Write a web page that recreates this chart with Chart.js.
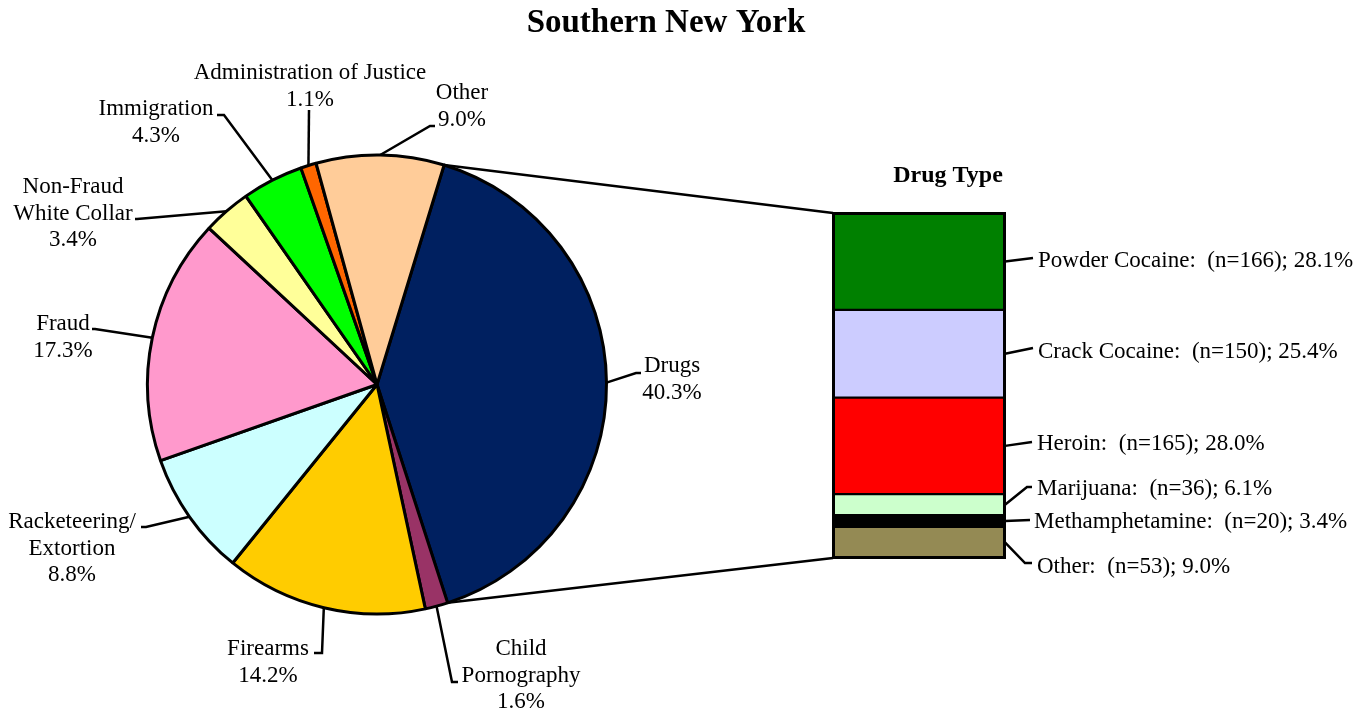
<!DOCTYPE html>
<html><head><meta charset="utf-8">
<script src="https://cdn.jsdelivr.net/npm/chart.js@4.4.1/dist/chart.umd.min.js"></script>
<style>
html,body{margin:0;padding:0;background:#fff;}
#wrap{position:relative;width:1362px;height:712px;overflow:hidden;}
#wrap canvas{position:absolute;left:0;top:0;}
</style></head><body>
<div id="wrap"><canvas id="pie" width="1362" height="712"></canvas><canvas id="bar" width="1362" height="712"></canvas></div>
<script>
// ---------- data ----------
const chartTitle = "Southern New York";
const pieCategories = [["Drugs"],["Child","Pornography"],["Firearms"],["Racketeering/","Extortion"],["Fraud"],["Non-Fraud","White Collar"],["Immigration"],["Administration of Justice"],["Other"]];
const piePercents = [40.3, 1.6, 14.2, 8.8, 17.3, 3.4, 4.3, 1.1, 9.0];
const pieColors = ["#002060","#993366","#FFCC00","#CCFFFF","#FF99CC","#FFFF99","#00FF00","#FF6600","#FFCC99"];

const drugTitle = "Drug Type";
const drugCategories = ["Powder Cocaine","Crack Cocaine","Heroin","Marijuana","Methamphetamine","Other"];
const drugCounts = [166, 150, 165, 36, 20, 53];
const drugPercents = [28.1, 25.4, 28.0, 6.1, 3.4, 9.0];
const drugColors = ["#008000","#CCCCFF","#FF0000","#CCFFCC","#000000","#948A54"];

// ---------- layout (positions only) ----------
const SERIF = '"Liberation Serif","Times New Roman",serif';
const pieLabelLayout = [
  {pts:[[636,373],[641,373]], cx:672, by:372},
  {pts:[[452,682],[458,682]], cx:521, by:655},
  {pts:[[322,653],[314,653]], cx:268, by:655},
  {pts:[[146,527],[141,527]], cx:72,  by:528},
  {pts:[[95,329],[92,329]],   cx:63,  by:330},
  {pts:[[137,219],[135,219]], cx:73,  by:193},
  {pts:[[224,115],[217,115]], cx:156, by:115},
  {pts:[[309,110]],           cx:310, by:79},
  {pts:[[430,126],[435,126]], cx:462, by:99}
];
const drugLabelLayout = [
  {pts:[[1033,258]], tx:1038, by:267},
  {pts:[[1033,348]], tx:1038, by:358},
  {pts:[[1032,442]], tx:1037, by:450},
  {pts:[[1027,487],[1032,487]], tx:1037, by:495},
  {pts:[[1030,520]], tx:1034, by:528},
  {pts:[[1025,563],[1032,563]], tx:1037, by:573}
];
const LINE_H = 26.5;

function polyline(ctx, pts){
  ctx.beginPath();
  ctx.moveTo(pts[0][0], pts[0][1]);
  for (let k=1;k<pts.length;k++) ctx.lineTo(pts[k][0], pts[k][1]);
  ctx.stroke();
}

const pieLabelsPlugin = {
  id:'pieLabels',
  afterDraw(chart){
    const ctx = chart.ctx;
    const meta = chart.getDatasetMeta(0);
    ctx.save();
    // title
    ctx.fillStyle = '#000';
    ctx.font = 'bold 33px ' + SERIF;
    ctx.textAlign = 'center';
    ctx.textBaseline = 'alphabetic';
    ctx.fillText(chartTitle, 666, 32);
    // labels + leaders
    ctx.strokeStyle = '#000';
    ctx.lineWidth = 2.5;
    ctx.lineJoin = 'miter';
    ctx.font = '23px ' + SERIF;
    meta.data.forEach((el, i) => {
      const L = pieLabelLayout[i];
      const mid = (el.startAngle + el.endAngle) / 2;
      const sx = el.x + Math.cos(mid) * el.outerRadius;
      const sy = el.y + Math.sin(mid) * el.outerRadius;
      polyline(ctx, [[sx, sy]].concat(L.pts));
      const lines = pieCategories[i].concat([piePercents[i].toFixed(1) + '%']);
      lines.forEach((t, j) => ctx.fillText(t, L.cx, L.by + j * LINE_H));
    });
    ctx.restore();
  }
};

const pieChart = new Chart(document.getElementById('pie'), {
  type: 'pie',
  data: {
    labels: pieCategories,
    datasets: [{
      data: piePercents,
      backgroundColor: pieColors,
      borderColor: '#000',
      borderWidth: 3,
      radius: 229.5
    }]
  },
  options: {
    responsive: false,
    animation: false,
    rotation: 17,
    layout: {padding: {left: 147, right: 755, top: 155, bottom: 98}},
    plugins: {legend: {display: false}, tooltip: {enabled: false}, title: {display: false}}
  },
  plugins: [pieLabelsPlugin]
});

const barLabelsPlugin = {
  id:'barLabels',
  afterDraw(chart){
    const ctx = chart.ctx;
    ctx.save();
    const first = chart.getDatasetMeta(0).data[0];
    const last = chart.getDatasetMeta(drugCategories.length - 1).data[0];
    const left = first.x - first.width / 2;
    const right = first.x + first.width / 2;
    const top = Math.min(first.y, first.base);
    const bottom = Math.max(last.y, last.base);
    // outer frame
    ctx.strokeStyle = '#000';
    ctx.lineWidth = 3;
    ctx.strokeRect(left + 0.5, top + 0.5, right - left - 1, bottom - top - 1);
    // connectors from the Drugs slice
    const arc = pieChart.getDatasetMeta(0).data[0];
    const p1 = [arc.x + Math.cos(arc.startAngle) * arc.outerRadius, arc.y + Math.sin(arc.startAngle) * arc.outerRadius];
    const p2 = [arc.x + Math.cos(arc.endAngle) * arc.outerRadius, arc.y + Math.sin(arc.endAngle) * arc.outerRadius];
    ctx.lineWidth = 2.5;
    polyline(ctx, [p1, [left, top]]);
    polyline(ctx, [p2, [left, bottom]]);
    // title
    ctx.fillStyle = '#000';
    ctx.font = 'bold 24px ' + SERIF;
    ctx.textAlign = 'center';
    ctx.textBaseline = 'alphabetic';
    ctx.fillText(drugTitle, 948, 182);
    // labels
    ctx.font = '23px ' + SERIF;
    ctx.textAlign = 'left';
    drugCategories.forEach((c, i) => {
      const el = chart.getDatasetMeta(i).data[0];
      const L = drugLabelLayout[i];
      const sx = el.x + el.width / 2;
      const sy = (el.y + el.base) / 2;
      polyline(ctx, [[sx, sy]].concat(L.pts));
      ctx.fillText(c + ':  (n=' + drugCounts[i] + '); ' + drugPercents[i].toFixed(1) + '%', L.tx, L.by);
    });
    ctx.restore();
  }
};

new Chart(document.getElementById('bar'), {
  type: 'bar',
  data: {
    labels: [drugTitle],
    datasets: drugCategories.map((c, i) => ({
      label: c,
      data: [drugPercents[i]],
      backgroundColor: drugColors[i],
      borderColor: '#000',
      borderWidth: 1.5,
      borderSkipped: false,
      barPercentage: 1,
      categoryPercentage: 1
    }))
  },
  options: {
    responsive: false,
    animation: false,
    layout: {padding: {left: 833, right: 357, top: 213, bottom: 154}},
    scales: {
      x: {stacked: true, display: false},
      y: {stacked: true, display: false, reverse: true, min: 0, max: 100}
    },
    plugins: {legend: {display: false}, tooltip: {enabled: false}, title: {display: false}}
  },
  plugins: [barLabelsPlugin]
});
</script>
</body></html>
